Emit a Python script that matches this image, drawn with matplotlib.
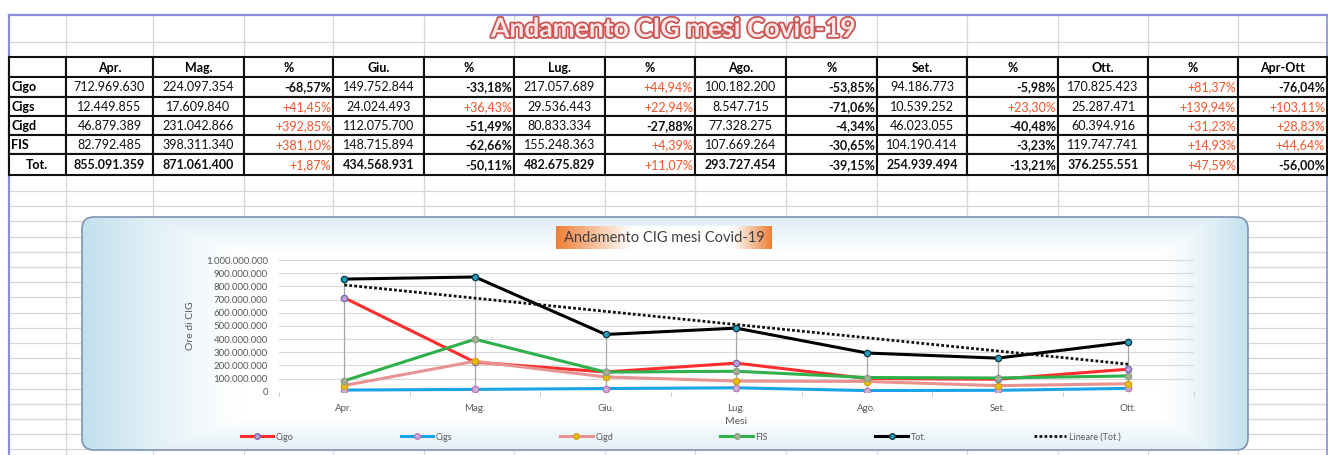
import matplotlib
matplotlib.use('Agg')
import matplotlib.pyplot as plt
import matplotlib.patheffects as pe
from matplotlib.patches import FancyBboxPatch, Rectangle
from matplotlib.lines import Line2D
from matplotlib.ticker import FuncFormatter
import numpy as np

plt.rcParams['font.family'] = ['Lato', 'DejaVu Sans']

# dati (ore di CIG per mese)
mesi = ['Apr.', 'Mag.', 'Giu.', 'Lug.', 'Ago.', 'Set.', 'Ott.']
cigo = [712969630, 224097354, 149752844, 217057689, 100182200, 94186773, 170825423]
cigs = [12449855, 17609840, 24024493, 29536443, 8547715, 10539252, 25287471]
cigd = [46879389, 231042866, 112075700, 80833334, 77328275, 46023055, 60394916]
fis = [82792485, 398311340, 148715894, 155248363, 107669264, 104190414, 119747741]
tot = [855091359, 871061400, 434568931, 482675829, 293727454, 254939494, 376255551]

# variazioni % (Mag..Ott sul mese prima, poi Apr-Ott)
pct_cigo = ['-68,57%', '-33,18%', '+44,94%', '-53,85%', '-5,98%', '+81,37%', '-76,04%']
pct_cigs = ['+41,45%', '+36,43%', '+22,94%', '-71,06%', '+23,30%', '+139,94%', '+103,11%']
pct_cigd = ['+392,85%', '-51,49%', '-27,88%', '-4,34%', '-40,48%', '+31,23%', '+28,83%']
pct_fis = ['+381,10%', '-62,66%', '+4,39%', '-30,65%', '-3,23%', '+14,93%', '+44,64%']
pct_tot = ['+1,87%', '-50,11%', '+11,07%', '-39,15%', '-13,21%', '+47,59%', '-56,00%']

righe = ['Cigo', 'Cigs', 'Cigd', 'FIS', 'Tot.']
serie = [cigo, cigs, cigd, fis, tot]
pcts = [pct_cigo, pct_cigs, pct_cigd, pct_fis, pct_tot]

W, H = 1328, 455
fig = plt.figure(figsize=(W / 100, H / 100), dpi=100)
bg = fig.add_axes([0, 0, 1, 1])
bg.set_xlim(0, W)
bg.set_ylim(H, 0)
bg.axis('off')

def fmt(v):
    return f"{int(round(v)):,}".replace(',', '.')

# --- griglia del foglio ---
col_x = [9, 66, 153, 244, 333, 424, 514, 605, 695, 786, 877, 967, 1058, 1148, 1238, 1327]
row_y = [57, 77, 96.5, 116, 135, 154, 175]
grid_c = '#d6d6d6'
for x in col_x[1:-1]:
    bg.plot([x, x], [15, H], color=grid_c, lw=0.9, zorder=1)
for y in [42] + list(np.arange(191, H, 15.2)):
    bg.plot([9, W], [y, y], color=grid_c, lw=0.9, zorder=1)
bg.plot([9, 9], [15, H], color='#8c8cd8', lw=1.6, zorder=2)
bg.plot([9, W], [15, 15], color='#8c8cd8', lw=1.6, zorder=2)
bg.plot([1327, 1327], [15, H], color='#8c8cd8', lw=1.2, zorder=2)

# titolo del foglio
bg.text(673, 29, 'Andamento CIG mesi Covid-19', fontsize=19, fontweight='bold',
        color='#fde6e6', ha='center', va='center', zorder=3,
        path_effects=[pe.withStroke(linewidth=2.6, foreground='#cc5555')])

# --- tabella ---
header = ['', 'Apr.', 'Mag.', '%', 'Giu.', '%', 'Lug.', '%', 'Ago.', '%', 'Set.', '%', 'Ott.', '%', 'Apr-Ott']
pos_c = '#f0552a'
for r in range(6):
    y0, y1 = row_y[r], row_y[r + 1]
    yc = (y0 + y1) / 2 + 0.5
    for c in range(15):
        x0, x1 = col_x[c], col_x[c + 1]
        bg.add_patch(Rectangle((x0, y0), x1 - x0, y1 - y0, fill=True, facecolor='white',
                               edgecolor='#111111', lw=1.5, zorder=3))
    if r == 0:
        for c in range(15):
            bg.text((col_x[c] + col_x[c + 1]) / 2, yc, header[c], fontsize=9,
                    fontweight='bold', ha='center', va='center', zorder=4)
        continue
    i = r - 1
    vals, pc = serie[i], pcts[i]
    bold = 'bold' if righe[i] == 'Tot.' else 'normal'
    if righe[i] == 'Tot.':
        bg.text((col_x[0] + col_x[1]) / 2, yc, righe[i], fontsize=9, fontweight='bold',
                ha='center', va='center', zorder=4)
    else:
        bg.text(col_x[0] + 2, yc, righe[i], fontsize=9, fontweight='bold',
                ha='left', va='center', zorder=4)
    cells = [vals[0], vals[1], pc[0], vals[2], pc[1], vals[3], pc[2],
             vals[4], pc[3], vals[5], pc[4], vals[6], pc[5], pc[6]]
    for c, cell in enumerate(cells, start=1):
        x0, x1 = col_x[c], col_x[c + 1]
        if isinstance(cell, str):
            col = pos_c if cell.startswith('+') else '#111111'
            w = 'normal' if cell.startswith('+') else 'bold'
            bg.text(x1 - 2, yc, cell, fontsize=9, fontweight=w, color=col,
                    ha='right', va='center', zorder=4)
        else:
            bg.text((x0 + x1) / 2, yc, fmt(cell), fontsize=9, fontweight=bold,
                    color='#111111', ha='center', va='center', zorder=4)

# --- riquadro del grafico ---
bx0, by0, bx1, by1 = 82, 217, 1248, 450
box = FancyBboxPatch((bx0, by0), bx1 - bx0, by1 - by0,
                     boxstyle='round,pad=0,rounding_size=12',
                     facecolor='none', edgecolor='#7f93b2', lw=1.2, zorder=6)
bg.add_patch(box)
gx = np.arange(bx0, bx1)[None, :]
gy = np.arange(by0, by1)[:, None]
t = np.maximum.reduce([
    np.clip(1 - (gx - bx0) / 160, 0, 1) ** 1.2 + 0 * gy,
    np.clip(1 - (bx1 - gx) / 85, 0, 1) ** 1.2 + 0 * gy,
    0.55 * np.clip(1 - (gy - by0) / 35, 0, 1) + 0 * gx,
    0.5 * np.clip(1 - (by1 - gy) / 32, 0, 1) + 0 * gx,
])
blue = np.array([0.76, 0.88, 0.93])
img = 1 - t[..., None] * (1 - blue)
im = bg.imshow(img, extent=(bx0, bx1, by1, by0), origin='upper', zorder=5,
               interpolation='bilinear')
im.set_clip_path(box)
bg.set_xlim(0, W)
bg.set_ylim(H, 0)

# titolo del grafico su sfondo arancio
tx0, tx1, ty0, ty1 = 556, 772, 226, 249
u = np.linspace(0, 1, 200)
o = np.maximum(np.clip(1 - u / 0.35, 0, 1), np.clip((u - 0.82) / 0.18, 0, 1))
orange = np.array([0.93, 0.50, 0.22])
timg = 1 - o[None, :, None] * (1 - orange)
bg.imshow(np.repeat(timg, 4, axis=0), extent=(tx0, tx1, ty1, ty0), origin='upper',
          zorder=6, aspect='auto')
bg.text((tx0 + tx1) / 2, (ty0 + ty1) / 2 + 1, 'Andamento CIG mesi Covid-19', fontsize=10.5,
        color='#404040', ha='center', va='center', zorder=7)
bg.set_xlim(0, W)
bg.set_ylim(H, 0)

# --- area del grafico ---
pl, pr, pt, pb = 279, 1193.6, 260, 391.7
ax = fig.add_axes([pl / W, (H - pb) / H, (pr - pl) / W, (pb - pt) / H])
ax.set_zorder(10)
ax.patch.set_alpha(0)
for s in ax.spines.values():
    s.set_visible(False)
ax.set_ylim(0, 1e9)
ax.set_xlim(-0.5, 6.5)
ax.set_yticks(np.arange(0, 1.0001e9, 1e8))
ax.yaxis.set_major_formatter(FuncFormatter(lambda v, p: fmt(v)))
ax.grid(axis='y', color='#d9d9d9', lw=0.8)
ax.set_axisbelow(True)
ax.tick_params(axis='y', length=0, pad=8, labelsize=7, labelcolor='#595959')
ax.set_xticks(range(len(mesi)))
ax.set_xticklabels(mesi)
ax.tick_params(axis='x', length=0, pad=9, labelsize=7, labelcolor='#595959')
ax.set_xticks(np.arange(-0.5, 7, 1), minor=True)
ax.tick_params(axis='x', which='minor', length=3, color='#bfbfbf', direction='out')
ax.set_xlabel('Mesi', fontsize=7.5, color='#595959', labelpad=3)
ax.set_ylabel('Ore di CIG', fontsize=7.5, color='#595959')
ax.yaxis.set_label_coords((195 - pl) / (pr - pl), 0.5)

xs = np.arange(len(mesi))
stack = np.array(serie)
ax.vlines(xs, stack.min(axis=0), stack.max(axis=0), color='#a6a6a6', lw=0.9, zorder=2)

stili = [
    ('Cigo', cigo, '#ff2d2d', '#b8a6d8', '#7d68ad'),
    ('Cigs', cigs, '#1aa3e8', '#d3b0dc', '#b67ab4'),
    ('Cigd', cigd, '#e99292', '#e8bf10', '#d3a114'),
    ('FIS', fis, '#2eb04a', '#a3b18c', '#8d9a8f'),
    ('Tot.', tot, '#000000', '#2aa0b8', '#0d3e4f'),
]
handles = []
for nome, vals, lc, mfc, mec in stili:
    ax.plot(xs, vals, color=lc, lw=2.2, marker='o', ms=4.5, mfc=mfc, mec=mec,
            mew=1.0, zorder=3)
    handles.append(Line2D([], [], color=lc, lw=2.2, marker='o', ms=4, mfc=mfc,
                          mec=mec, label=nome))

# tendenza lineare del totale
coef = np.polyfit(xs + 1, tot, 1)
trend = np.polyval(coef, xs + 1)
ax.plot(xs, trend, color='#111111', lw=2.0, linestyle=(0, (1, 0.8)), zorder=4)
handles.append(Line2D([], [], color='#111111', lw=2.0, linestyle=(0, (1, 0.8)),
                      label='Lineare (Tot.)'))

leg = ax.legend(handles=handles, ncol=6, loc='center', mode='expand', frameon=False,
                bbox_to_anchor=(236 / W, (H - 444) / H, (1125 - 236) / W, 14 / H),
                bbox_transform=fig.transFigure, fontsize=6.5, handlelength=3.6,
                handletextpad=0.3, borderpad=0, labelcolor='#595959')

plt.savefig('out.png', dpi=100)
